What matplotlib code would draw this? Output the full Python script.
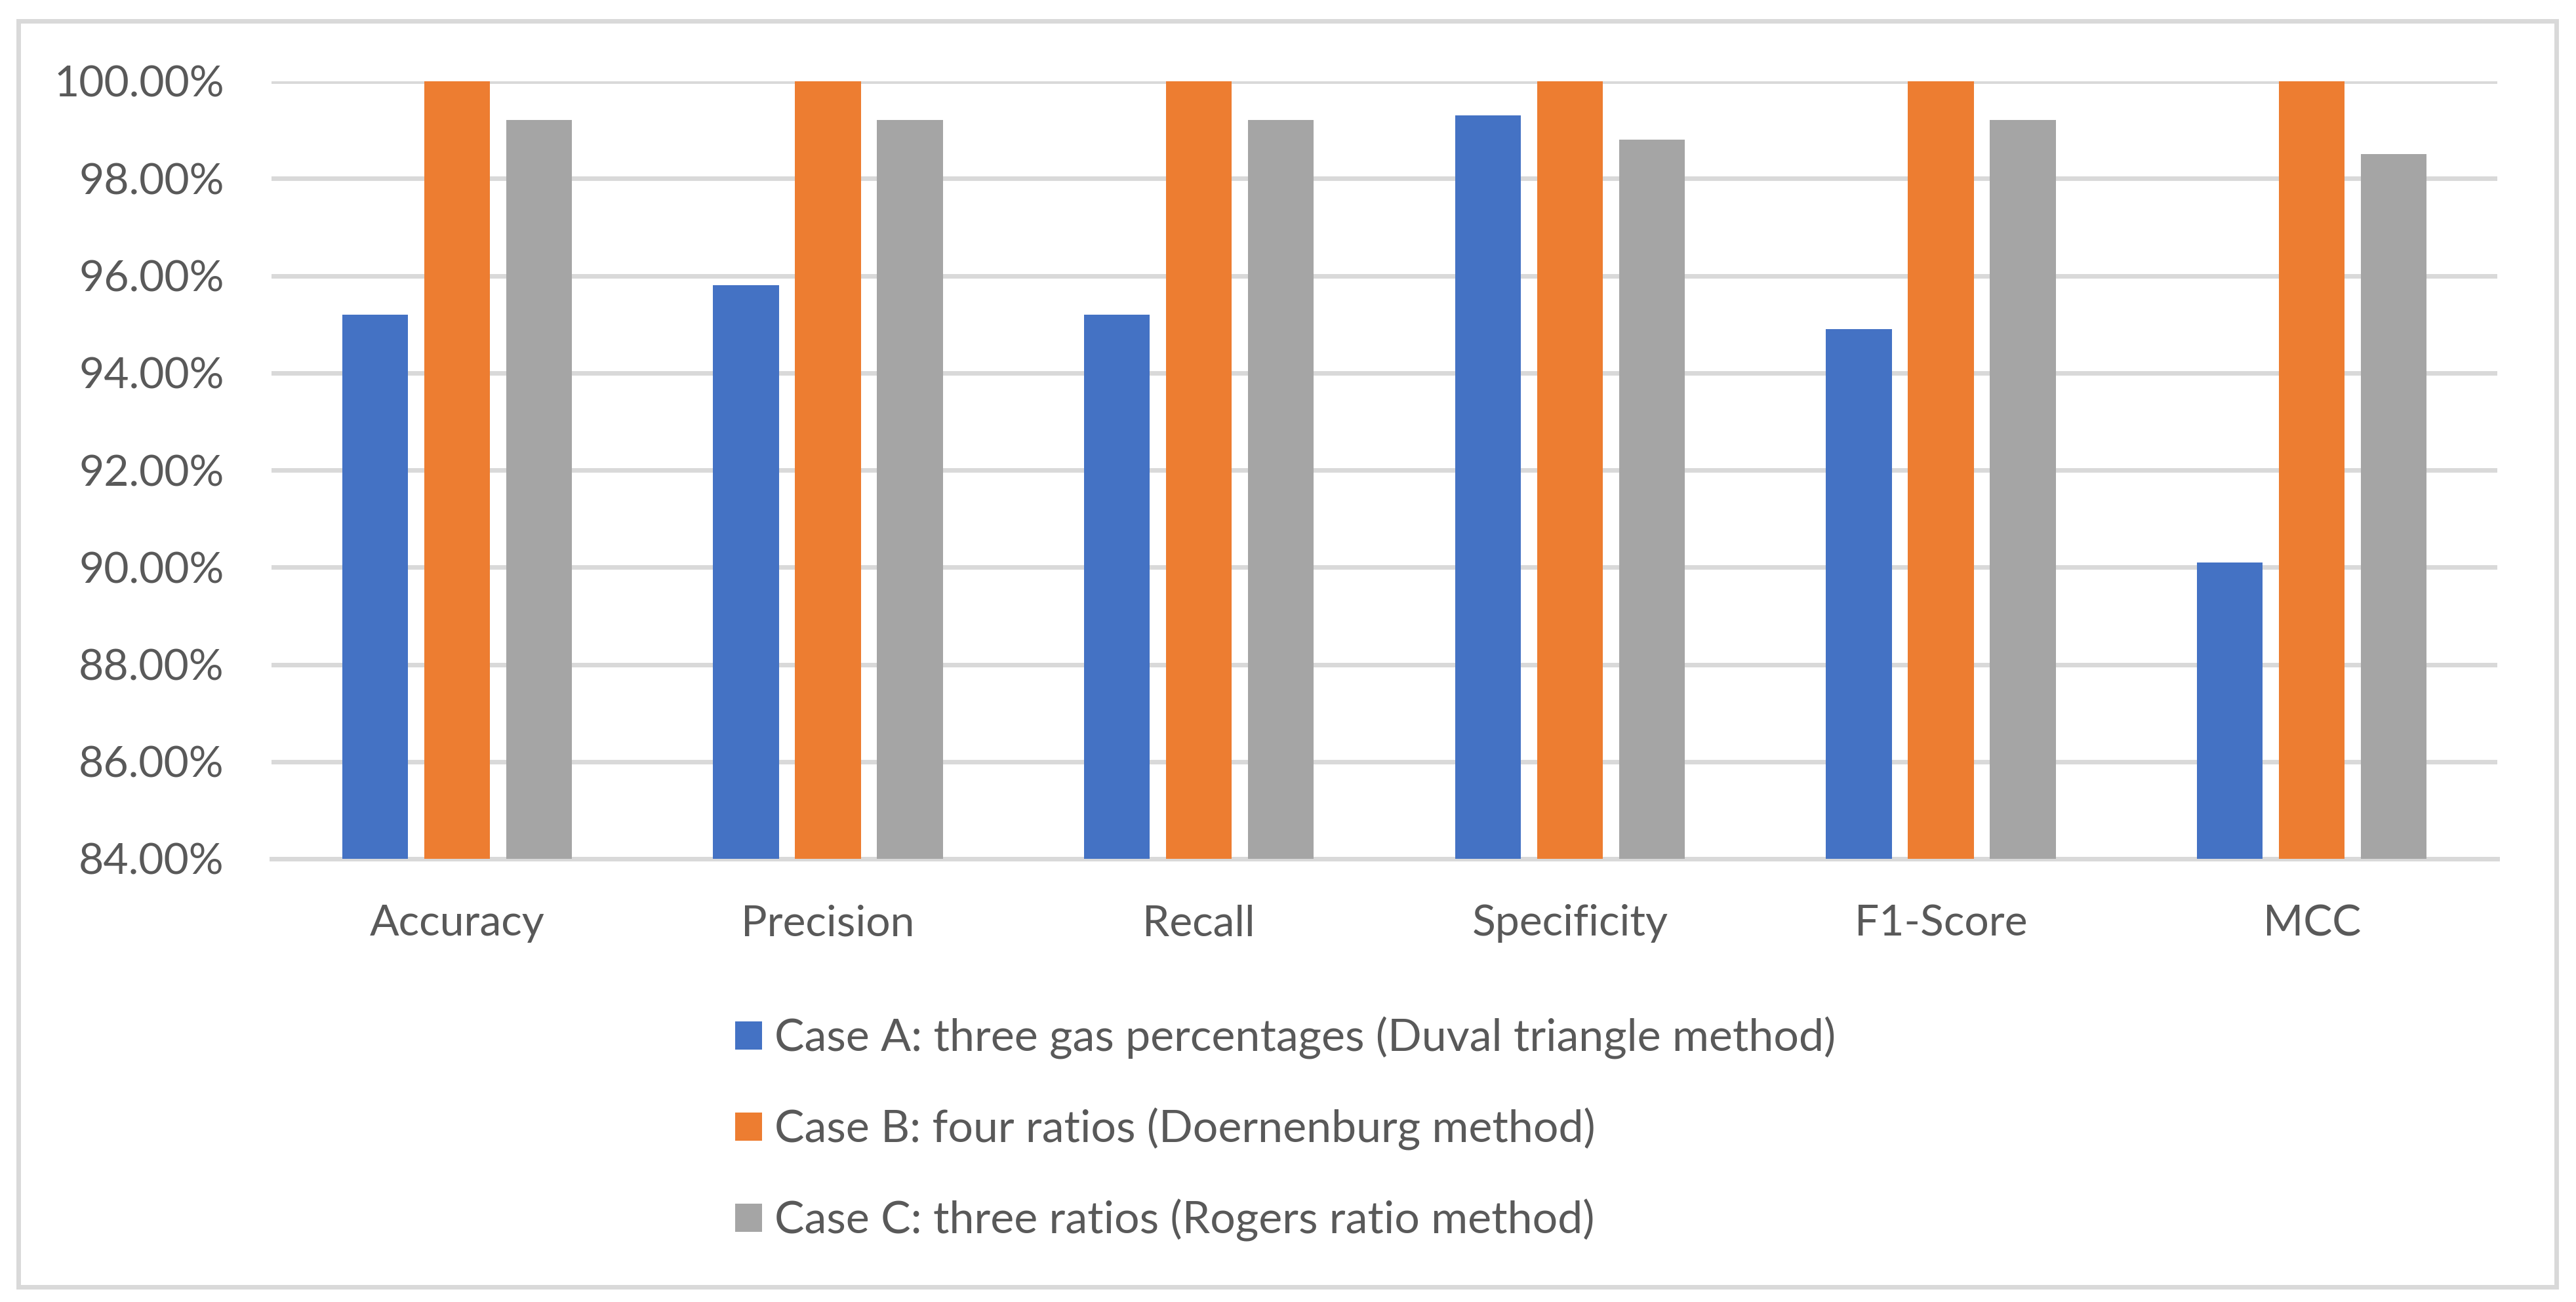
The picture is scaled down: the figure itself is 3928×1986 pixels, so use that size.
import numpy as np
import matplotlib
matplotlib.use('Agg')
import matplotlib.pyplot as plt
from matplotlib.patches import Patch, Rectangle
from matplotlib.ticker import FuncFormatter

metrics = ['Accuracy', 'Precision', 'Recall', 'Specificity', 'F1-Score', 'MCC']
case_a = [95.2, 95.8, 95.2, 99.3, 94.9, 90.1]
case_b = [100.0, 100.0, 100.0, 100.0, 100.0, 100.0]
case_c = [99.2, 99.2, 99.2, 98.8, 99.2, 98.5]
series_labels = [
    'Case A: three gas percentages (Duval triangle method)',
    'Case B: four ratios (Doernenburg method)',
    'Case C: three ratios (Rogers ratio method)',
]
colors = ['#4472C4', '#ED7D31', '#A5A5A5']

plt.rcParams['font.family'] = ['Lato', 'DejaVu Sans']
text_color = '#595959'
grid_color = '#D9D9D9'
fs = 47.5
leg_fs = 49

W, H = 3928, 1986
fig = plt.figure(figsize=(W / 100, H / 100), dpi=100)
ax = fig.add_axes([414 / W, (H - 1310) / H, (3808 - 414) / W, (1310 - 124) / H])

x = np.arange(len(metrics))
width = 0.177
offset = 0.221
for i, (vals, c, lab) in enumerate(zip([case_a, case_b, case_c], colors, series_labels)):
    ax.bar(x + (i - 1) * offset, vals, width, color=c, label=lab, zorder=3)

ax.set_xlim(-0.5, len(metrics) - 0.5)
ax.set_ylim(84, 100)
ax.set_yticks(np.arange(84, 100.1, 2))
ax.yaxis.set_major_formatter(FuncFormatter(lambda v, p: f'{v:.2f}%'))
ax.set_xticks(x)
ax.set_xticklabels(metrics)
ax.grid(axis='y', color=grid_color, linewidth=5, zorder=0)
for s in ['top', 'right', 'left']:
    ax.spines[s].set_visible(False)
ax.spines['bottom'].set_color(grid_color)
ax.spines['bottom'].set_linewidth(5)
ax.tick_params(axis='both', length=0, labelsize=fs, colors=text_color)
ax.tick_params(axis='y', pad=52)
ax.tick_params(axis='x', pad=50)

handles = [Patch(facecolor=c, edgecolor='none') for c in colors]
leg = fig.legend(handles, series_labels, loc='upper left',
                 bbox_to_anchor=(1121 / W, (H - 1551) / H),
                 frameon=False, fontsize=leg_fs, labelcolor=text_color,
                 handlelength=0.6, handleheight=0.6, handletextpad=0.28,
                 labelspacing=1.08, borderpad=0, borderaxespad=0)

fig.patches.append(Rectangle((28 / W, (H - 1963) / H), (3898 - 28) / W, (1963 - 32) / H,
                             transform=fig.transFigure, fill=False,
                             edgecolor=grid_color, linewidth=5))

fig.savefig('out.png', dpi=100)
